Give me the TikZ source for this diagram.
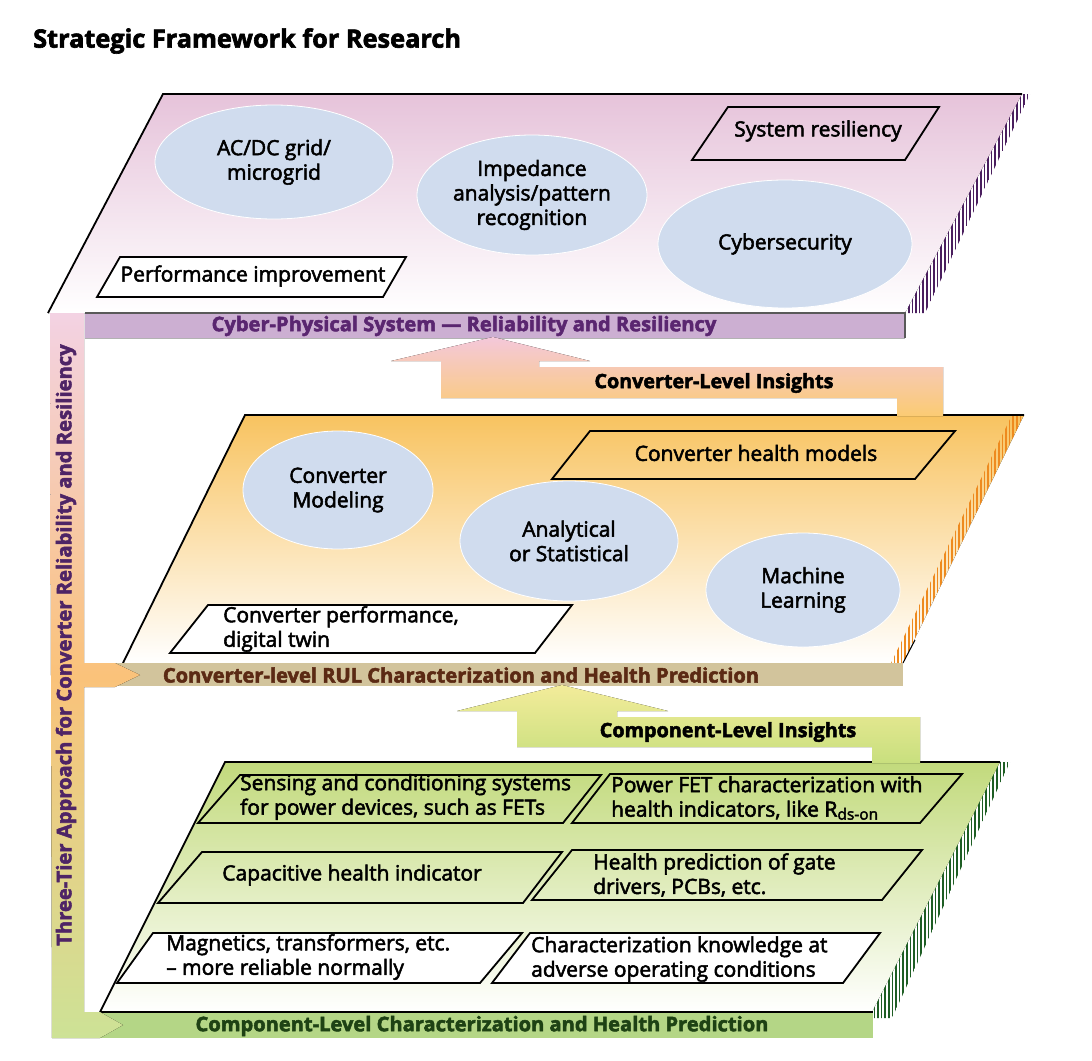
\documentclass[tikz,border=0pt]{standalone}
\usepackage{fontspec}
\setmainfont[FakeBold=2.5]{Open Sans}
\usetikzlibrary{shapes.geometric}
\definecolor{ellblue}{HTML}{D0DCEE}
\definecolor{pinkp}{HTML}{E6C3DA}
\definecolor{orangep}{HTML}{F8C360}
\definecolor{greenp}{HTML}{C2DA7C}
\definecolor{purplebar}{HTML}{CCAFD2}
\definecolor{tanbar}{HTML}{D2C49C}
\definecolor{greenbar}{HTML}{B4D686}
\definecolor{purpletext}{HTML}{5A2670}
\definecolor{browntext}{HTML}{5B2A14}
\definecolor{greentext}{HTML}{1E4214}
\definecolor{vtext}{HTML}{4E2466}
\definecolor{hatchpurple}{HTML}{4A1E5E}
\definecolor{hatchorange}{HTML}{EE8A1E}
\definecolor{hatchgreen}{HTML}{1E5E24}
\definecolor{arrpink}{HTML}{F4C8DA}
\definecolor{arrorange}{HTML}{FBCB73}
\definecolor{arryellow}{HTML}{F3EC9A}
\definecolor{arrgreen}{HTML}{C8DF7E}
\definecolor{lpink}{HTML}{F3D2E3}
\definecolor{lorange}{HTML}{FAC27A}
\definecolor{lgreen}{HTML}{CDE296}
\begin{document}
\begin{tikzpicture}[x=1pt,y=-1pt,
  every node/.style={inner sep=0pt},
  txt/.style={font=\fontsize{21}{24.5}\selectfont, align=center},
  txtl/.style={font=\fontsize{21}{24.5}\selectfont, align=left, anchor=west},
  ell/.style={ellipse, fill=ellblue, draw=white, line width=0.8pt, font=\fontsize{21}{24.5}\selectfont, align=center},
  pbox/.style={draw=black, line width=1.8pt, line join=miter},
  barlabel/.style={font=\bfseries\fontsize{20.1}{24}\selectfont},
  edge/.style={draw=black, line width=1.8pt}
]
\useasboundingbox (0,0) rectangle (1092,1060);

% title
\node[anchor=west, font=\bfseries\fontsize{25.3}{28}\selectfont] (title) at (33,41) {Strategic Framework for Research};

% ===== TOP PANEL =====
\fill[top color=pinkp, bottom color=white] (163,94) -- (1022,94) -- (905,313) -- (48,313) -- cycle;
\begin{scope}
  \clip (1022,94) -- (1030,94) -- (925,313) -- (905,313) -- cycle;
  \foreach \x in {880,883.6,...,1040} \draw[hatchpurple, line width=1.7pt] (\x,90) -- (\x,320);
\end{scope}
\draw[edge] (48,313) -- (163,94) -- (1022,94);
\fill[purplebar] (85,313) rectangle (905,338);
\draw[gray!70!black, line width=1.2pt] (85,313) -- (905,313) -- (905,338);
\draw[gray!60, line width=0.8pt] (85,338) -- (905,338);
\node[barlabel, text=purpletext] (cpsbar) at (464,326) {Cyber-Physical System — Reliability and Resiliency};

\node[ell, minimum width=238, minimum height=114] (acdc) at (274,162) {AC/DC grid/\\microgrid};
\node[ell, minimum width=230, minimum height=120] (imp) at (532,195) {Impedance\\analysis/pattern\\recognition};
\node[ell, minimum width=254, minimum height=128] (cyber) at (785,244) {Cybersecurity};

\draw[pbox] (728,107) -- (939,107) -- (905,160) -- (692,160) -- cycle;
\node[txt] (sysres) at (818,131) {System resiliency};
\draw[pbox, fill=white] (120,257) -- (406,257) -- (383,297) -- (97,297) -- cycle;
\node[txt] (perf) at (253,276) {Performance improvement};

% ===== MIDDLE PANEL =====
\fill[top color=orangep, bottom color=white] (245,415) -- (1024,415) -- (903,663) -- (123,663) -- cycle;
\begin{scope}
  \clip (1024,415) -- (1012,415) -- (891,663) -- (903,663) -- cycle;
  \foreach \x in {880,883.6,...,1040} \draw[hatchorange, line width=1.7pt] (\x,410) -- (\x,670);
\end{scope}
\draw[edge] (123,663) -- (245,415) -- (1024,415);
\draw[black, line width=1pt] (903,663) -- (915,640);
\fill[tanbar] (116,663) rectangle (903,686);
\node[barlabel, text=browntext] (convbar) at (461,675) {Converter-level RUL Characterization and Health Prediction};

\node[ell, minimum width=190, minimum height=118] (cmod) at (338,490) {Converter\\Modeling};
\node[ell, minimum width=218, minimum height=120] (anal) at (569,541) {Analytical\\or Statistical};
\node[ell, minimum width=194, minimum height=114] (ml) at (803,590) {Machine\\Learning};

\draw[pbox] (590,431) -- (955,431) -- (915,479) -- (552,479) -- cycle;
\node[txt] (chm) at (756,453) {Converter health models};
\draw[pbox, fill=white] (208,605) -- (572,605) -- (535,653) -- (170,653) -- cycle;
\node[txtl] (cperf) at (223,629) {Converter performance,\\digital twin};

% ===== BOTTOM PANEL =====
\fill[top color=greenp, bottom color=white] (225,762) -- (1000,762) -- (872,1012) -- (100,1012) -- cycle;
\begin{scope}
  \clip (1000,762) -- (1010,762) -- (892,1018) -- (872,1018) -- (872,1012) -- cycle;
  \foreach \x in {860,863.6,...,1020} \draw[hatchgreen, line width=1.7pt] (\x,755) -- (\x,1020);
\end{scope}
\draw[edge] (100,1012) -- (225,762) -- (1000,762);
\fill[greenbar] (100,1013) rectangle (873,1038);
\draw[edge] (100,1012) -- (873,1012);
\node[barlabel, text=greentext] (compbar) at (482,1026) {Component-Level Characterization and Health Prediction};

\draw[pbox] (240,775) -- (601,775) -- (563,823) -- (198,823) -- cycle;
\node[txtl] (sens) at (240,797) {Sensing and conditioning systems\\for power devices, such as FETs};
\draw[pbox] (610,774) -- (962,774) -- (920,823) -- (572,823) -- cycle;
\node[txtl] (fet) at (611,798) {Power FET characterization with\\health indicators, like R{\fontsize{15.5}{15}\selectfont\raisebox{-3pt}{ds-on}}};
\draw[pbox] (202,852) -- (562,852) -- (523,903) -- (158,903) -- cycle;
\node[txt] (cap) at (352,875) {Capacitive health indicator};
\draw[pbox] (572,850) -- (922,850) -- (882,900) -- (532,900) -- cycle;
\node[txtl] (gate) at (593,875) {Health prediction of gate\\drivers, PCBs, etc.};
\draw[pbox, fill=white] (153,933) -- (522,933) -- (480,983) -- (117,983) -- cycle;
\node[txtl] (mag) at (166,957) {Magnetics, transformers, etc.\\-- more reliable normally};
\draw[pbox, fill=white] (530,933) -- (880,933) -- (843,983) -- (492,983) -- cycle;
\node[txtl] (char) at (531,959) {Characterization knowledge at\\adverse operating conditions};

% ===== INSIGHT ARROWS =====
\fill[top color=arrpink, bottom color=arrorange]
  (897,416) -- (897,398) -- (441,398) -- (441,361) -- (391,361) -- (493,337) -- (590,361) -- (539,361) -- (539,367) -- (943,367) -- (943,416) -- cycle;
\node[font=\bfseries\fontsize{19.7}{24}\selectfont] (convins) at (714,383) {Converter-Level Insights};

\fill[top color=arryellow, bottom color=arrgreen]
  (872,763) -- (872,747) -- (517,747) -- (517,711) -- (457,711) -- (562,685) -- (668,711) -- (617,711) -- (617,717) -- (920,717) -- (920,763) -- cycle;
\node[font=\bfseries\fontsize{19.8}{24}\selectfont] (compins) at (728,732) {Component-Level Insights};

% ===== LEFT THREE-TIER ARROW =====
\fill[top color=lpink, bottom color=lgreen, middle color=lorange]
  (50,313) -- (84,313) -- (84,663) -- (115,663) -- (140,675) -- (115,687) -- (84,687) -- (84,1012) -- (100,1012) -- (123,1025) -- (100,1038) -- (52,1038) -- cycle;
\node[rotate=90, font=\bfseries\fontsize{20.2}{24}\selectfont, text=vtext] (three) at (66,645) {Three-Tier Approach for Converter Reliability and Resiliency};
\end{tikzpicture}
\end{document}
